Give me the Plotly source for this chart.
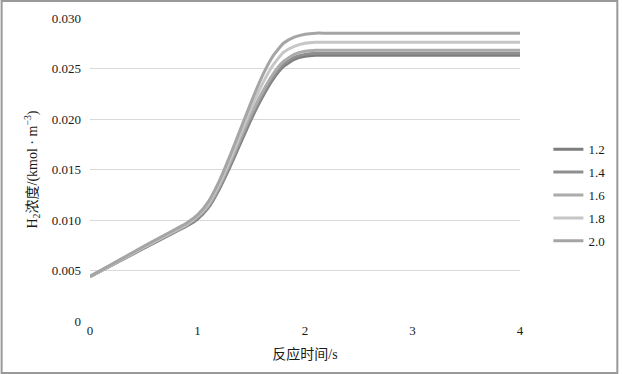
import plotly.graph_objects as go

t = [0, 0.5, 0.9, 1.0, 1.1, 1.2, 1.3, 1.4, 1.5, 1.6, 1.7, 1.8, 1.9, 2.0, 2.1, 2.2, 2.5, 3.0, 4.0]

series_names = ["1.2", "1.4", "1.6", "1.8", "2.0"]
h2_12 = [0.0044, 0.0072, 0.0094, 0.0101, 0.0112, 0.0130, 0.0152, 0.0176, 0.0200, 0.0221, 0.0239, 0.0252, 0.0259, 0.0262, 0.0263, 0.0263, 0.0263, 0.0263, 0.0263]
h2_14 = [0.0044, 0.0072, 0.0095, 0.0102, 0.0113, 0.0131, 0.0154, 0.0178, 0.0202, 0.0223, 0.0241, 0.0254, 0.0261, 0.0264, 0.0265, 0.0265, 0.0265, 0.0265, 0.0265]
h2_16 = [0.0044, 0.0073, 0.0095, 0.0103, 0.0114, 0.0133, 0.0156, 0.0181, 0.0205, 0.0226, 0.0244, 0.0257, 0.0264, 0.0267, 0.0268, 0.0268, 0.0268, 0.0268, 0.0268]
h2_18 = [0.0044, 0.0073, 0.0096, 0.0104, 0.0116, 0.0135, 0.0159, 0.0185, 0.0211, 0.0234, 0.0253, 0.0266, 0.0272, 0.0275, 0.0276, 0.0276, 0.0276, 0.0276, 0.0276]
h2_20 = [0.0044, 0.0074, 0.0097, 0.0105, 0.0118, 0.0138, 0.0163, 0.0190, 0.0217, 0.0242, 0.0262, 0.0275, 0.0281, 0.0284, 0.0285, 0.0285, 0.0285, 0.0285, 0.0285]
all_series = [h2_12, h2_14, h2_16, h2_18, h2_20]
colors = ["#7d7d7d", "#8f8f8f", "#ababab", "#c6c6c6", "#a5a5a5"]

y_ticks = [0, 0.005, 0.010, 0.015, 0.020, 0.025, 0.030]
y_ticktext = ["0", "0.005", "0.010", "0.015", "0.020", "0.025", "0.030"]
x_ticks = [0, 1, 2, 3, 4]

FONT = "'Liberation Serif', 'Noto Sans CJK SC', serif"
TXT = "#1a1a1a"

fig = go.Figure()
for name, ys, c in zip(series_names, all_series, colors):
    fig.add_trace(go.Scatter(
        x=t, y=ys, mode="lines", name=name, legendgroup=name,
        line=dict(color=c, width=3, shape="spline", smoothing=0.5),
    ))

fig.update_layout(
    template="none",
    width=622, height=374,
    margin=dict(l=90, r=99, t=18, b=53),
    paper_bgcolor="white", plot_bgcolor="white",
    font=dict(family=FONT, size=13, color=TXT),
    showlegend=True,
    legend=dict(x=1.066, y=0.415, xanchor="left", yanchor="middle",
                font=dict(size=13, family=FONT, color=TXT), tracegroupgap=3,
                bgcolor="rgba(0,0,0,0)"),
    xaxis=dict(range=[0, 4], tickvals=x_ticks, showgrid=False, zeroline=False,
               showline=False, ticks="", tickfont=dict(size=13, color=TXT),
               title=dict(text="反应时间/s", font=dict(size=14, color=TXT), standoff=12)),
    yaxis=dict(range=[0, 0.030], tickvals=y_ticks, ticktext=y_ticktext,
               showgrid=True, gridcolor="#d9d9d9", gridwidth=1,
               zeroline=False, showline=False, ticks="", tickfont=dict(size=13, color=TXT),
               ticklabelstandoff=8,
               title=dict(text="H<sub>2</sub>浓度/(kmol · m<sup>−3</sup>)",
                          font=dict(size=14, color=TXT), standoff=10)),
    shapes=[dict(type="rect", xref="paper", yref="paper",
                 x0=-89/433, x1=1+98/433, y0=-52/303, y1=1+17/303,
                 line=dict(color="#999999", width=2), fillcolor="rgba(0,0,0,0)")],
)
fig.write_html("out.html", config={"displayModeBar": False, "staticPlot": True},
               post_script="document.body.style.margin='0';document.body.style.overflow='hidden';")
